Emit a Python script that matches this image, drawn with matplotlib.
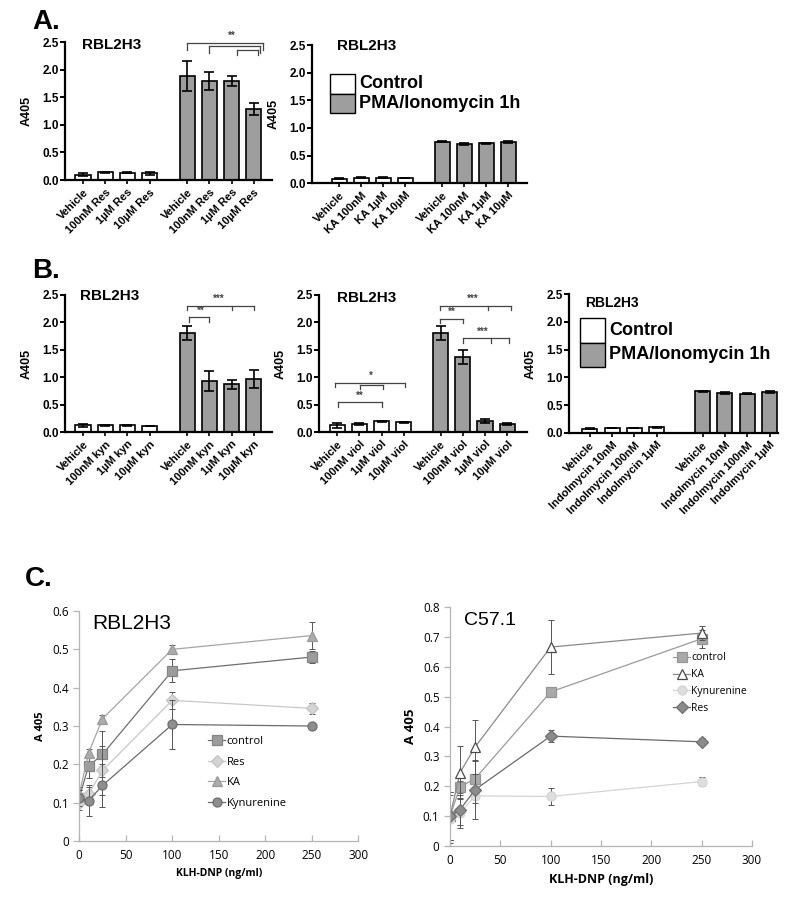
import numpy as np
import matplotlib as mpl
mpl.use('agg')
import matplotlib.pyplot as plt
from matplotlib.patches import Rectangle

plt.rcParams['font.family'] = ['Liberation Sans', 'DejaVu Sans']

# ---- panel A / B bar data (A405) ----
res_labels = ['Vehicle', '100nM Res', '1\u00b5M Res', '10\u00b5M Res']
res_ctrl = [0.10, 0.14, 0.13, 0.12]
res_ctrl_err = [0.03, 0.01, 0.01, 0.02]
res_pma = [1.89, 1.80, 1.80, 1.29]
res_pma_err = [0.27, 0.16, 0.09, 0.11]

ka_labels = ['Vehicle', 'KA 100nM', 'KA 1\u00b5M', 'KA 10\u00b5M']
ka_ctrl = [0.08, 0.10, 0.10, 0.09]
ka_ctrl_err = [0.005, 0.005, 0.01, 0.005]
ka_pma = [0.75, 0.71, 0.72, 0.74]
ka_pma_err = [0.01, 0.02, 0.005, 0.02]

kyn_labels = ['Vehicle', '100nM kyn', '1\u00b5M kyn', '10\u00b5M kyn']
kyn_ctrl = [0.12, 0.12, 0.12, 0.11]
kyn_ctrl_err = [0.03, 0.005, 0.005, 0.005]
kyn_pma = [1.80, 0.93, 0.87, 0.97]
kyn_pma_err = [0.13, 0.19, 0.08, 0.17]

viol_labels = ['Vehicle', '100nM viol', '1\u00b5M viol', '10\u00b5M viol']
viol_ctrl = [0.12, 0.15, 0.20, 0.18]
viol_ctrl_err = [0.04, 0.015, 0.01, 0.01]
viol_pma = [1.80, 1.37, 0.20, 0.15]
viol_pma_err = [0.13, 0.13, 0.03, 0.015]

ind_labels = ['Vehicle', 'Indolmycin 10nM', 'Indolmycin 100nM', 'Indolmycin 1\u00b5M']
ind_ctrl = [0.08, 0.09, 0.09, 0.10]
ind_ctrl_err = [0.005, 0.005, 0.005, 0.005]
ind_pma = [0.75, 0.72, 0.71, 0.74]
ind_pma_err = [0.01, 0.015, 0.01, 0.015]

# ---- panel C dose response ----
klh = [0, 10, 25, 100, 250]

rbl_control = [0.113, 0.195, 0.226, 0.444, 0.480]
rbl_control_err = [0.02, 0.03, 0.06, 0.03, 0.015]
rbl_res = [0.100, 0.122, 0.184, 0.367, 0.346]
rbl_res_err = [0.02, 0.02, 0.065, 0.022, 0.015]
rbl_ka = [0.122, 0.229, 0.319, 0.500, 0.536]
rbl_ka_err = [0.02, 0.01, 0.01, 0.012, 0.035]
rbl_kyn = [0.112, 0.105, 0.145, 0.304, 0.300]
rbl_kyn_err = [0.02, 0.04, 0.055, 0.065, 0.005]

c57_control = [0.10, 0.198, 0.226, 0.516, 0.694]
c57_control_err = [0.08, 0.02, 0.06, 0.01, 0.03]
c57_ka = [0.10, 0.246, 0.332, 0.666, 0.713]
c57_ka_err = [0.08, 0.09, 0.09, 0.09, 0.022]
c57_kyn = [0.09, 0.112, 0.168, 0.166, 0.216]
c57_kyn_err = [0.08, 0.05, 0.025, 0.03, 0.015]
c57_res = [0.10, 0.122, 0.189, 0.368, 0.349]
c57_res_err = [0.08, 0.05, 0.10, 0.02, 0.012]

GRAY = '#9e9e9e'
OPEN = ['Open Sans', 'DejaVu Sans']


def bar_panel(ax, labels, ctrl, ctrl_err, pma, pma_err, gap, lpad, rpad):
    xc = np.arange(4)
    xp = np.arange(4) + 3 + gap
    kw = dict(width=0.68, edgecolor='black', linewidth=1.2, zorder=2)
    ax.bar(xc, ctrl, color='white', **kw)
    ax.bar(xp, pma, color=GRAY, **kw)
    ekw = dict(fmt='none', ecolor='black', elinewidth=1.2, capsize=3.5, capthick=1.2, zorder=3)
    ax.errorbar(xc, ctrl, yerr=ctrl_err, **ekw)
    ax.errorbar(xp, pma, yerr=pma_err, **ekw)
    ax.set_xlim(-lpad, xp[-1] + rpad)
    ax.set_ylim(0, 2.5)
    ax.set_yticks(np.arange(0, 2.51, 0.5))
    ax.set_yticklabels(['%.1f' % v for v in np.arange(0, 2.51, 0.5)])
    ax.set_xticks(list(xc) + list(xp))
    ax.set_xticklabels(labels + labels, rotation=45, ha='right',
                       rotation_mode='anchor', fontsize=8, fontweight='bold')
    for s in ['top', 'right']:
        ax.spines[s].set_visible(False)
    for s in ['left', 'bottom']:
        ax.spines[s].set_linewidth(1.6)
    ax.tick_params(axis='y', direction='out', length=3.5, width=1.4, labelsize=8.5, pad=1)
    ax.tick_params(axis='x', direction='out', length=3, width=1.2, pad=2)
    for t in ax.get_yticklabels():
        t.set_fontweight('bold')
    ax.set_ylabel('A405', fontsize=9, fontweight='bold', labelpad=7)
    return xc, xp


def bracket(ax, x0, xs, y, drop, text, tx, fs=7):
    ax.plot([x0, max(xs)], [y, y], color='#444444', lw=0.9, clip_on=False)
    for x in [x0] + list(xs):
        ax.plot([x, x], [y, y - drop], color='#444444', lw=0.9, clip_on=False)
    ax.text(tx, y + 0.03, text, ha='center', va='bottom', fontsize=fs,
            fontweight='bold', color='#444444', clip_on=False)


def key(ax, x, y, w, h, fs):
    ax.add_patch(Rectangle((x, y - h), w, h, transform=ax.transAxes, facecolor='white',
                           edgecolor='black', lw=1.0, clip_on=False, zorder=5))
    ax.add_patch(Rectangle((x, y - 2 * h), w, h, transform=ax.transAxes, facecolor=GRAY,
                           edgecolor='black', lw=1.0, clip_on=False, zorder=5))
    ax.text(x + w + 0.02, y - 0.5 * h, 'Control', transform=ax.transAxes, fontsize=fs,
            fontweight='bold', va='center', ha='left')
    ax.text(x + w + 0.02, y - 1.5 * h, 'PMA/Ionomycin 1h', transform=ax.transAxes,
            fontsize=fs, fontweight='bold', va='center', ha='left')


fig = plt.figure(figsize=(8, 9.02), dpi=100)

# ---- A ----
axA1 = fig.add_axes([0.081, 0.8004, 0.259, 0.153])
xc, xp = bar_panel(axA1, res_labels, res_ctrl, res_ctrl_err, res_pma, res_pma_err, 1.7, 0.82, 0.82)
axA1.text(0.227, 0.975, 'RBL2H3', transform=axA1.transAxes, ha='center', va='center',
          fontsize=11, fontweight='bold')
bracket(axA1, xp[0], [8.12], 2.49, 0.13, '**', 6.7)
bracket(axA1, xp[1], [8.0], 2.42, 0.12, '', 0)
bracket(axA1, 6.95, [7.9], 2.36, 0.1, '', 0)

axA2 = fig.add_axes([0.39, 0.797, 0.269, 0.153])
bar_panel(axA2, ka_labels, ka_ctrl, ka_ctrl_err, ka_pma, ka_pma_err, 1.68, 1.23, 0.86)
axA2.text(0.256, 0.995, 'RBL2H3', transform=axA2.transAxes, ha='center', va='center',
          fontsize=11, fontweight='bold')
key(axA2, 0.084, 0.79, 0.116, 0.141, 13)

# ---- B ----
axB1 = fig.add_axes([0.081, 0.521, 0.259, 0.152])
xc, xp = bar_panel(axB1, kyn_labels, kyn_ctrl, kyn_ctrl_err, kyn_pma, kyn_pma_err, 1.7, 0.82, 0.82)
axB1.text(0.217, 0.995, 'RBL2H3', transform=axB1.transAxes, ha='center', va='center',
          fontsize=11, fontweight='bold')
bracket(axB1, xp[0], [xp[2], xp[3]], 2.30, 0.07, '***', xp[1] + 0.4)
bracket(axB1, xp[0] + 0.1, [xp[1]], 2.09, 0.08, '**', xp[0] + 0.6)

axB2 = fig.add_axes([0.399, 0.521, 0.26, 0.152])
xc, xp = bar_panel(axB2, viol_labels, viol_ctrl, viol_ctrl_err, viol_pma, viol_pma_err, 1.66, 0.81, 0.9)
axB2.text(0.23, 0.98, 'RBL2H3', transform=axB2.transAxes, ha='center', va='center',
          fontsize=11, fontweight='bold')
bracket(axB2, xp[0] - 0.05, [xp[2] + 0.15, xp[3] + 0.15], 2.30, 0.07, '***', xp[1] + 0.45)
bracket(axB2, xp[0] - 0.03, [xp[1]], 2.07, 0.08, '**', xp[0] + 0.5)
bracket(axB2, xp[1], [xp[2] + 0.25, xp[3] + 0.1], 1.71, 0.09, '***', xp[2] - 0.1)
bracket(axB2, xc[0] - 0.1, [xc[3] + 0.07], 0.90, 0.07, '*', xc[1] + 0.5)
bracket(axB2, xc[1] + 0.05, [xc[2] + 0.07], 0.85, 0.07, '', 0)
bracket(axB2, xc[0] + 0.05, [xc[2]], 0.54, 0.08, '**', xc[1])

axB3 = fig.add_axes([0.711, 0.52, 0.261, 0.154])
bar_panel(axB3, ind_labels, ind_ctrl, ind_ctrl_err, ind_pma, ind_pma_err, 2.05, 0.94, 0.36)
axB3.text(0.206, 0.935, 'RBL2H3', transform=axB3.transAxes, ha='center', va='center',
          fontsize=10, fontweight='bold')
key(axB3, 0.053, 0.827, 0.12, 0.176, 13)

# ---- C ----
def line_panel(ax, series, ymax, title, tfs, fs, xfs, yfs, lgfs, legend_anchor, lspace):
    for y, err, lab, mk, fc, ec, lc in series:
        ax.errorbar(klh, y, yerr=err, fmt='none', ecolor='#555555', elinewidth=0.7,
                    capsize=2.5, capthick=0.7)
        ax.plot(klh, y, label=lab, marker=mk, markersize=6.5, mfc=fc, mec=ec,
                mew=0.9, color=lc, lw=0.9)
    ax.set_xlim(0, 300)
    ax.set_ylim(0, ymax)
    ax.set_xticks(np.arange(0, 301, 50))
    for s in ['top', 'right']:
        ax.spines[s].set_visible(False)
    for s in ['left', 'bottom']:
        ax.spines[s].set_color('#b5b5b5')
        ax.spines[s].set_linewidth(0.9)
    ax.tick_params(axis='y', direction='out', length=4, width=0.9, color='#b5b5b5', labelsize=fs)
    ax.tick_params(axis='x', direction='in', length=4, width=0.9, color='#b5b5b5', labelsize=fs,
                   pad=6)
    for t in ax.get_xticklabels() + ax.get_yticklabels():
        t.set_family(OPEN)
    ax.text(0.047, 0.945, title, transform=ax.transAxes, fontsize=tfs, ha='left', va='center')
    ax.set_xlabel('KLH-DNP (ng/ml)', fontsize=xfs, fontweight='bold', family=OPEN, labelpad=4)
    ax.set_ylabel('A 405', fontsize=yfs, fontweight='bold', family=OPEN, labelpad=4)
    ax.legend(loc='upper left', bbox_to_anchor=legend_anchor, borderaxespad=0, borderpad=0,
              frameon=False, numpoints=1, handlelength=1.6, handletextpad=0.1,
              labelspacing=lspace, prop={'family': 'Open Sans', 'size': lgfs})


axC1 = fig.add_axes([0.099, 0.0676, 0.349, 0.255])
line_panel(axC1, [
    (rbl_control, rbl_control_err, 'control', 's', '#9c9c9c', '#858585', '#6f6f6f'),
    (rbl_res, rbl_res_err, 'Res', 'D', '#d4d4d4', '#c4c4c4', '#c8c8c8'),
    (rbl_ka, rbl_ka_err, 'KA', '^', '#ababab', '#9a9a9a', '#a5a5a5'),
    (rbl_kyn, rbl_kyn_err, 'Kynurenine', 'o', '#8e8e8e', '#6e6e6e', '#6a6a6a'),
], 0.6, 'RBL2H3', 15, 8.5, 7.5, 8, 8, (0.46, 0.455), 0.85)
axC1.set_yticks(np.arange(0, 0.61, 0.1))
axC1.set_yticklabels(['0', '0.1', '0.2', '0.3', '0.4', '0.5', '0.6'], family=OPEN)

axC2 = fig.add_axes([0.5625, 0.062, 0.3775, 0.265])
line_panel(axC2, [
    (c57_control, c57_control_err, 'control', 's', '#a9a9a9', '#969696', '#9a9a9a'),
    (c57_ka, c57_ka_err, 'KA', '^', 'white', '#4a4a4a', '#8a8a8a'),
    (c57_kyn, c57_kyn_err, 'Kynurenine', 'o', '#dedede', '#d4d4d4', '#d4d4d4'),
    (c57_res, c57_res_err, 'Res', 'D', '#8c8c8c', '#707070', '#6a6a6a'),
], 0.8, 'C57.1', 14, 8.5, 9, 9.5, 7.5, (0.74, 0.81), 0.55)
axC2.set_yticks(np.arange(0, 0.81, 0.1))
axC2.set_yticklabels(['0', '0.1', '0.2', '0.3', '0.4', '0.5', '0.6', '0.7', '0.8'], family=OPEN)

# panel letters
fig.text(0.04, 0.976, 'A.', fontsize=20, fontweight='bold', va='center')
fig.text(0.04, 0.700, 'B.', fontsize=20, fontweight='bold', va='center')
fig.text(0.031, 0.358, 'C.', fontsize=20, fontweight='bold', va='center')

plt.savefig('out.png', dpi=100)
